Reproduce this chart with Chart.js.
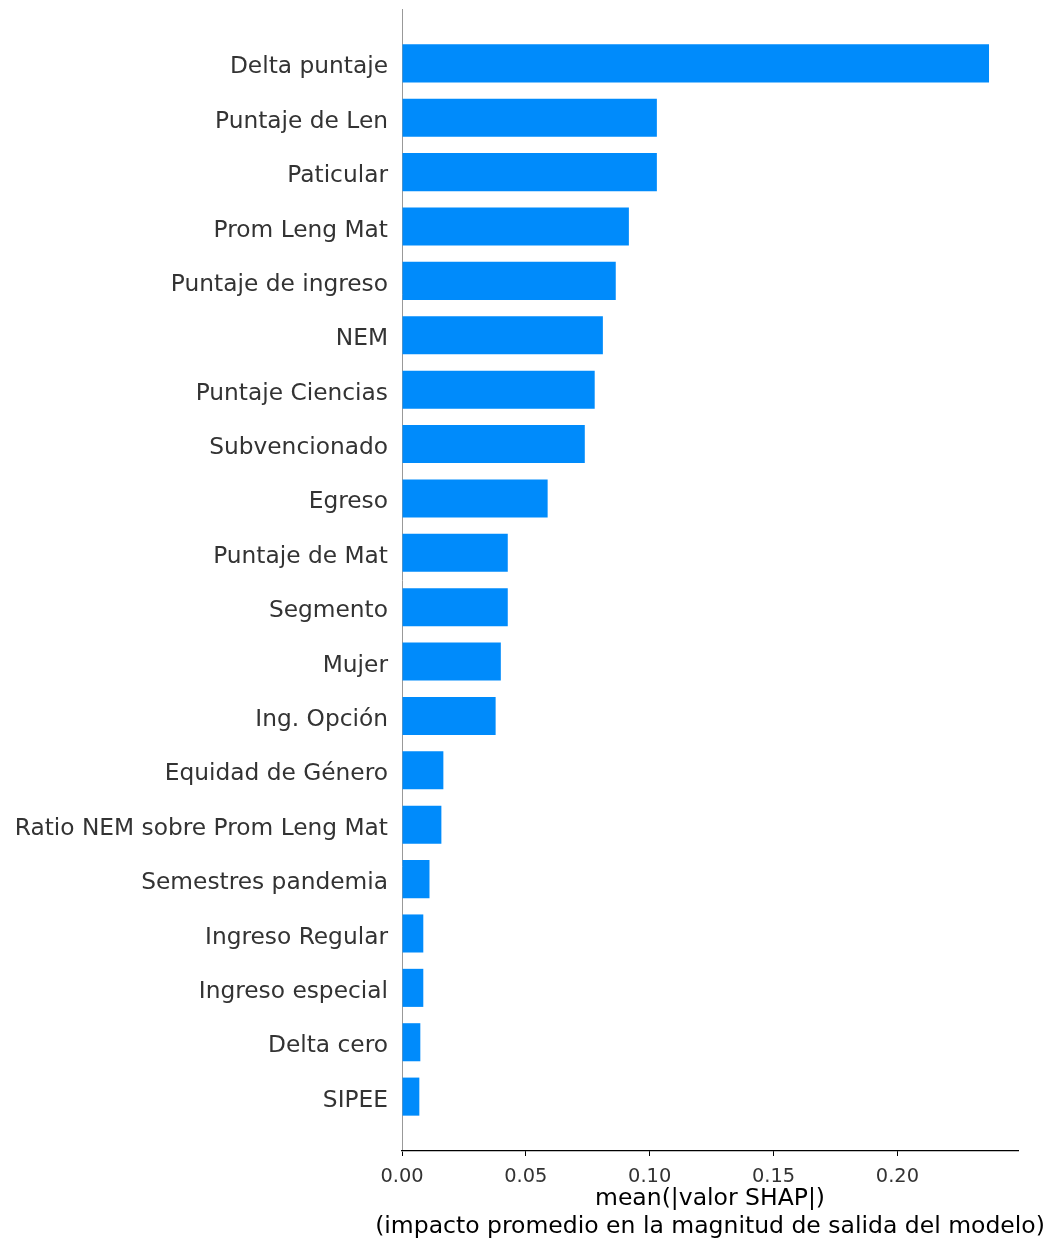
<!DOCTYPE html>
<html lang="es">
<head>
<meta charset="utf-8">
<title>Importancia SHAP</title>
<script src="https://cdn.jsdelivr.net/npm/chart.js@4.4.1/dist/chart.umd.min.js"></script>
<style>
  html, body { margin: 0; padding: 0; background: #fff; }
  #wrap { position: relative; width: 1051px; height: 1243px; }
</style>
</head>
<body>
<div id="wrap"><canvas id="chart-shap"></canvas></div>
<script>
// Variables ordenadas de mayor a menor impacto
const features = [
  'Delta puntaje', 'Puntaje de Len', 'Paticular', 'Prom Leng Mat', 'Puntaje de ingreso',
  'NEM', 'Puntaje Ciencias', 'Subvencionado', 'Egreso', 'Puntaje de Mat',
  'Segmento', 'Mujer', 'Ing. Opción', 'Equidad de Género', 'Ratio NEM sobre Prom Leng Mat',
  'Semestres pandemia', 'Ingreso Regular', 'Ingreso especial', 'Delta cero', 'SIPEE',
];
const meanAbsShap = [
  0.2370, 0.1029, 0.1029, 0.0916, 0.0863,
  0.0811, 0.0778, 0.0738, 0.0588, 0.0427,
  0.0427, 0.0399, 0.0378, 0.0167, 0.0159,
  0.0111, 0.0086, 0.0086, 0.0074, 0.0070,
];
const xTicks = [0, 0.05, 0.10, 0.15, 0.20];
const xTitle = ['mean(|valor SHAP|)', '(impacto promedio en la magnitud de salida del modelo)'];

const FONT = "'DejaVu Sans', sans-serif";
const PAD = { top: 9, right: 33, bottom: 0, left: 0 };

// Título del eje x dibujado a mano: el de Chart.js se comprime al ancho del eje
const axisTitle = {
  id: 'axisTitle',
  afterDraw(chart) {
    const { ctx, chartArea } = chart;
    const cx = (chartArea.left + chartArea.right) / 2;
    ctx.save();
    ctx.fillStyle = '#000000';
    ctx.font = `23.5px ${FONT}`;
    ctx.textAlign = 'center';
    ctx.textBaseline = 'alphabetic';
    xTitle.forEach((line, i) => ctx.fillText(line, cx, chartArea.bottom + 54 + i * 28));
    ctx.restore();
  },
};

const ctx = document.getElementById('chart-shap').getContext('2d');
new Chart(ctx, {
  type: 'bar',
  data: {
    datasets: [{
      data: meanAbsShap.map((v, i) => ({ x: v, y: i })),
      backgroundColor: '#008BFB',
      borderWidth: 0,
      barPercentage: 0.7,
      categoryPercentage: 1,
    }],
  },
  options: {
    indexAxis: 'y',
    responsive: true,
    maintainAspectRatio: false,
    animation: false,
    layout: { padding: PAD },
    plugins: { legend: { display: false }, tooltip: { enabled: false } },
    scales: {
      y: {
        type: 'linear',
        reverse: true,
        offset: false,
        min: -1,
        max: features.length,
        afterBuildTicks: (scale) => { scale.ticks = features.map((_, i) => ({ value: i })); },
        afterFit: (scale) => {
          scale.width = 402 - PAD.left;
          scale.paddingTop = 0;
          scale.paddingBottom = 0;
        },
        ticks: {
          autoSkip: false,
          padding: 14,
          labelOffset: 4,
          color: '#333333',
          font: { family: FONT, size: 23.3 },
          callback: (v) => features[v] ?? '',
        },
        grid: { display: false, drawTicks: false, offset: false },
        border: { display: true, color: '#999999', width: 1 },
      },
      x: {
        type: 'linear',
        min: 0,
        max: 0.2487,
        afterBuildTicks: (scale) => { scale.ticks = xTicks.map(v => ({ value: v })); },
        afterFit: (scale) => {
          scale.height = 1243 - 1151 - PAD.bottom;
          scale.paddingLeft = 0;
          scale.paddingRight = 0;
        },
        ticks: {
          padding: 9,
          color: '#333333',
          font: { family: FONT, size: 19.4 },
          callback: (v) => Number(v).toFixed(2),
        },
        grid: { drawOnChartArea: false, drawTicks: true, tickLength: 5, tickColor: '#000000', tickWidth: 1 },
        border: { display: true, color: '#000000', width: 1.2 },
      },
    },
  },
  plugins: [axisTitle],
});
</script>
</body>
</html>
